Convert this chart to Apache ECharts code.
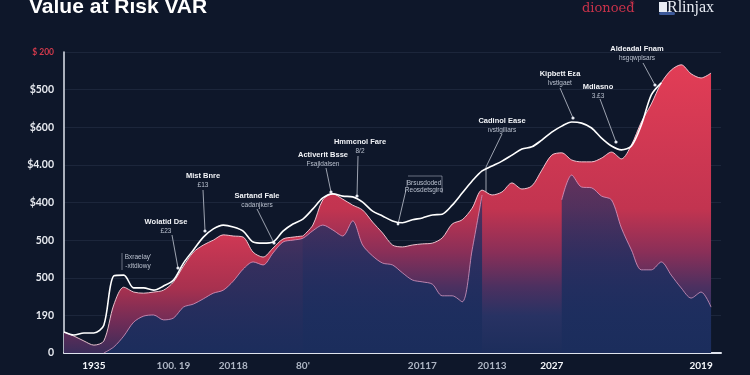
<!DOCTYPE html>
<html>
<head>
<meta charset="utf-8">
<title>Value at Risk VAR</title>
<script src="https://cdn.jsdelivr.net/npm/echarts@6/dist/echarts.min.js"></script>
<style>
  html, body { margin: 0; padding: 0; background: #0e172a; }
  #chart { width: 750px; height: 375px; }
</style>
</head>
<body>
<div id="chart"></div>
<script>
// x categories, only a few of them carry a label
var categories = [
  '', '', '', '1935', '', '', '', '', '', '',
  '', '100. 19', '', '', '', '', '', '20118', '', '',
  '', '', '', '', "80'", '', '', '', '', '',
  '', '', '', '', '', '', '20117', '', '', '',
  '', '', '', '20113', '', '', '', '', '', '2027',
  '', '', '', '', '', '', '', '', '', '',
  '', '', '', '', '2019', '', ''
];

// y tick labels, bottom to top
var yLabels = ['0', '190', '500', '500', '$400', '$4.00', '$600', '$500', '$ 200'];

// upper white line
var varLine = [
  56, 48, 53, 53, 74, 205, 207, 173, 173, 167,
  178, 194, 239, 274, 308, 330, 340, 335, 324, 295,
  292, 295, 324, 343, 356, 383, 412, 423, 417, 415,
  401, 377, 364, 351, 346, 354, 359, 367, 369, 393,
  425, 457, 484, 497, 510, 526, 542, 548, 566, 587,
  603, 614, 611, 598, 571, 550, 540, 550, 606, 686,
  718, null, null, null, null, null, null
];

// red filled area
var lossArea = [
  56, 45, 32, 21, 32, 128, 175, 162, 159, 162,
  167, 189, 231, 268, 287, 300, 314, 311, 308, 268,
  255, 279, 303, 308, 311, 340, 407, 423, 409, 393,
  380, 348, 319, 287, 282, 287, 290, 292, 306, 343,
  354, 385, 433, 420, 428, 452, 436, 444, 486, 526,
  532, 513, 508, 508, 518, 534, 516, 553, 614, 662,
  718, 752, 766, 742, 731, 744, null
];

// lower pink line with the blue fill
var baseArea = [
  null, null, null, null, 0, 16, 45, 82, 98, 101,
  88, 93, 122, 130, 144, 159, 167, 191, 223, 242,
  234, 266, 295, 300, 305, 325, 340, 327, 311, 351,
  287, 258, 239, 234, 213, 194, 189, 183, 152, 152,
  136, 274, 420, null, null, null, null, null, null, null,
  407, 473, 441, 439, 417, 407, 332, 274, 221, 221,
  242, 207, 173, 146, 162, 122, null
];

// the red area is painted in two parts so the low left part keeps its red
var SPLIT = 24;
var lossLeft = lossArea.map(function (v, i) { return i <= SPLIT ? v : null; });
var lossRight = lossArea.map(function (v, i) { return i >= SPLIT ? v : null; });

// callouts (pixel layout)
var notes = [
  { title: 'Wolatid Dse', sub: '£23', x: 166, y: 222, path: [[172, 235], [178, 268]] },
  { title: 'Mist Bnre', sub: '£13', x: 203, y: 176, path: [[203, 190], [205, 231]] },
  { title: 'Sartand Fale', sub: 'cadanjkers', x: 257, y: 196, path: [[257, 209], [274, 243]] },
  { title: 'Activerit Bsse', sub: 'Fsajldalsen', x: 323, y: 155, path: [[326, 168], [331, 192]] },
  { title: 'Hmmcnol Fare', sub: '8/2', x: 360, y: 142, path: [[358, 156], [357, 196]] },
  { title: 'Cadinol Ease', sub: 'ıvstlgiliars', x: 502, y: 121, path: [[502, 134], [486, 167], [486, 352]] },
  { title: 'Kipbett Eεa', sub: 'lvstlgaet', x: 560, y: 74, path: [[560, 88], [573, 118]] },
  { title: 'Mdlasno', sub: '3.£3', x: 598, y: 87, path: [[600, 99], [616, 142]] },
  { title: 'Aldeadal Fnam', sub: 'hsgqwplsars', x: 637, y: 49, path: [[643, 63], [655, 85]] }
];

var graphics = [
  {
    type: 'text', x: 29, y: 7,
    style: { text: 'Value at Risk VAR', fill: '#ffffff', font: 'bold 21px "Liberation Sans"', align: 'left', verticalAlign: 'middle' }
  },
  {
    type: 'text', x: 582, y: 9,
    style: { text: 'dionoed', fill: '#c8324a', font: '13px "DejaVu Serif"', align: 'left', verticalAlign: 'middle' }
  },
  {
    type: 'text', x: 629, y: 3,
    style: { text: '®', fill: '#c8324a', font: '6px "DejaVu Sans"', align: 'left', verticalAlign: 'middle' }
  },
  { type: 'rect', shape: { x: 659, y: 2, width: 8, height: 10 }, style: { fill: '#e8ecf4' } },
  { type: 'rect', shape: { x: 659, y: 12, width: 16, height: 3, r: 1.5 }, style: { fill: '#3d5a9a' } },
  {
    type: 'text', x: 667, y: 8,
    style: { text: 'Rlinjax', fill: '#e8ecf4', font: '16px "Liberation Serif"', align: 'left', verticalAlign: 'middle' }
  }
];

notes.forEach(function (n) {
  graphics.push({
    type: 'text', x: n.x, y: n.y,
    style: { text: n.title, fill: '#f2f4f8', font: 'bold 7.5px "Liberation Sans"', align: 'center', verticalAlign: 'middle' }
  });
  graphics.push({
    type: 'text', x: n.x, y: n.y + 9,
    style: { text: n.sub, fill: '#b9c0ce', font: '6.5px "Liberation Sans"', align: 'center', verticalAlign: 'middle' }
  });
  graphics.push({
    type: 'polyline', shape: { points: n.path },
    style: { stroke: 'rgba(225,230,240,0.85)', lineWidth: 0.8, fill: null }
  });
  var end = n.path[n.path.length - 1];
  if (n.path.length === 2) {
    graphics.push({ type: 'circle', shape: { cx: end[0], cy: end[1], r: 1.6 }, style: { fill: '#e6eaf2' } });
  }
});

// small bracketed notes
graphics.push(
  { type: 'text', x: 138, y: 257, style: { text: 'Bxraelay\'', fill: '#b9c0ce', font: '6.5px "Liberation Sans"', align: 'center', verticalAlign: 'middle' } },
  { type: 'text', x: 138, y: 266, style: { text: '-xitdiowy', fill: '#b9c0ce', font: '6.5px "Liberation Sans"', align: 'center', verticalAlign: 'middle' } },
  { type: 'polyline', shape: { points: [[122, 253], [122, 270]] }, style: { stroke: 'rgba(200,206,220,0.7)', lineWidth: 0.7, fill: null } },
  { type: 'text', x: 424, y: 183, style: { text: 'Brsusdoded', fill: '#b9c0ce', font: '6.5px "Liberation Sans"', align: 'center', verticalAlign: 'middle' } },
  { type: 'text', x: 424, y: 190, style: { text: 'Reosdetsgiro', fill: '#b9c0ce', font: '6.5px "Liberation Sans"', align: 'center', verticalAlign: 'middle' } },
  { type: 'polyline', shape: { points: [[408, 176], [442, 176], [442, 193]] }, style: { stroke: 'rgba(200,206,220,0.7)', lineWidth: 0.7, fill: null } },
  { type: 'polyline', shape: { points: [[407, 180], [407, 188]] }, style: { stroke: 'rgba(200,206,220,0.7)', lineWidth: 0.7, fill: null } },
  { type: 'polyline', shape: { points: [[406, 190], [398, 224]] }, style: { stroke: 'rgba(225,230,240,0.85)', lineWidth: 0.8, fill: null } },
  { type: 'circle', shape: { cx: 398, cy: 224, r: 1.4 }, style: { fill: '#e6eaf2' } }
);

var redEdge = { color: 'rgba(250,210,220,0.9)', width: 1 };

var myChart = echarts.init(document.getElementById('chart'));
myChart.setOption({
  backgroundColor: '#0e172a',
  animation: false,
  grid: { left: 64, right: 29, top: 52, bottom: 22 },
  xAxis: {
    type: 'category',
    data: categories,
    boundaryGap: false,
    axisLine: { lineStyle: { color: '#dfe4ee', width: 2 } },
    axisTick: { show: false },
    axisLabel: {
      interval: 0,
      margin: 8,
      fontSize: 10,
      fontWeight: 'bold',
      fontFamily: 'Lato',
      color: function (v) {
        return (v === '2027' || v === '2019' || v === '1935') ? '#f4f6fa' : '#aeb6c4';
      }
    },
    splitLine: { show: false }
  },
  yAxis: {
    type: 'value',
    min: 0,
    max: 800,
    interval: 100,
    axisLine: { show: true, lineStyle: { color: '#dfe4ee', width: 1.5 } },
    axisTick: { show: false },
    axisLabel: {
      margin: 10,
      fontSize: 10.5,
      fontWeight: 'bold',
      fontFamily: 'Lato',
      color: '#e6e9ef',
      formatter: function (v) {
        var i = Math.round(v / 100);
        return i === 8 ? '{top|' + yLabels[i] + '}' : yLabels[i];
      },
      rich: { top: { color: '#d23a4c', fontSize: 8.5, fontFamily: 'Lato' } }
    },
    splitLine: { lineStyle: { color: 'rgba(120,140,180,0.13)', width: 1 } }
  },
  series: [
    {
      name: 'loss',
      type: 'line',
      data: lossLeft,
      smooth: 0.3,
      symbol: 'none',
      z: 1,
      lineStyle: redEdge,
      areaStyle: {
        opacity: 1,
        color: new echarts.graphic.LinearGradient(0, 0, 0, 1, [
          { offset: 0, color: '#cf3854' },
          { offset: 0.45, color: '#a8314f' },
          { offset: 0.75, color: '#6e2c57' },
          { offset: 1, color: '#3a2d5a' }
        ])
      }
    },
    {
      name: 'loss',
      type: 'line',
      data: lossRight,
      smooth: 0.3,
      symbol: 'none',
      z: 1,
      lineStyle: redEdge,
      areaStyle: {
        opacity: 1,
        color: new echarts.graphic.LinearGradient(0, 0, 0, 1, [
          { offset: 0, color: '#e23d56' },
          { offset: 0.5, color: '#c23450' },
          { offset: 0.65, color: '#8a2f58' },
          { offset: 0.77, color: '#4c3060' },
          { offset: 0.87, color: '#283263' },
          { offset: 1, color: '#1c2d5b' }
        ])
      }
    },
    {
      name: 'base',
      type: 'line',
      data: baseArea,
      smooth: 0.3,
      symbol: 'none',
      z: 2,
      lineStyle: { color: 'rgba(225,160,200,0.75)', width: 1 },
      areaStyle: {
        opacity: 1,
        color: new echarts.graphic.LinearGradient(0, 0, 0, 1, [
          { offset: 0, color: 'rgba(32,48,100,0.6)' },
          { offset: 0.5, color: 'rgba(30,46,96,0.85)' },
          { offset: 1, color: 'rgba(27,45,92,0.97)' }
        ])
      }
    },
    {
      name: 'var',
      type: 'line',
      data: varLine,
      smooth: 0.3,
      symbol: 'none',
      z: 3,
      lineStyle: { color: '#ffffff', width: 1.6 }
    }
  ],
  graphic: graphics
});
</script>
</body>
</html>
